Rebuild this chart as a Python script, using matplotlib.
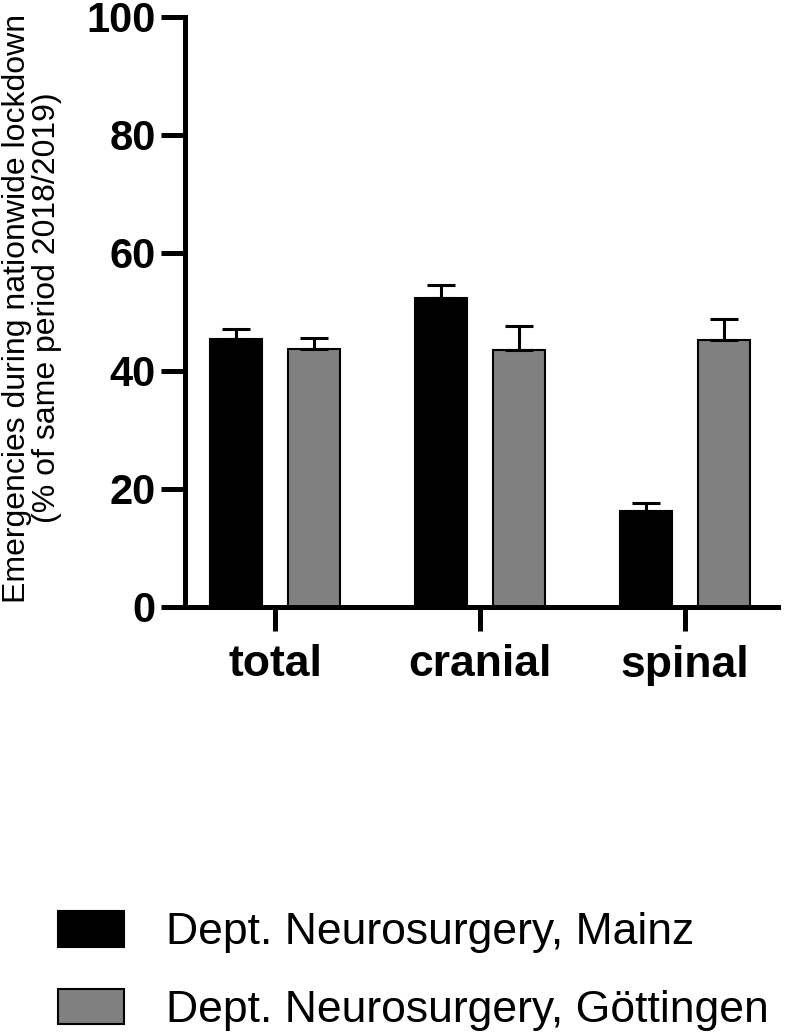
import matplotlib
matplotlib.use("Agg")
import matplotlib.pyplot as plt
from matplotlib.patches import Patch
import numpy as np

categories = ["total", "cranial", "spinal"]
series_names = ["Dept. Neurosurgery, Mainz", "Dept. Neurosurgery, Göttingen"]
mainz_values = [45.4, 52.4, 16.2]
mainz_err = [1.7, 2.1, 1.5]
goettingen_values = [43.8, 43.5, 45.2]
goettingen_err = [1.8, 4.2, 3.6]
y_ticks = [0, 20, 40, 60, 80, 100]

plt.rcParams['font.family'] = ['Liberation Sans', 'DejaVu Sans']

fig = plt.figure(figsize=(8, 10.36), dpi=100)
ax = fig.add_axes([185/800, 1-607/1036, (778-185)/800, (607-17)/1036])

x = np.arange(len(categories))
w = 0.25
off = 0.19
colors = ["#000000", "#808080"]
err_kw = dict(ecolor="black", elinewidth=2.2, capsize=10, capthick=2.2)

ax.bar(x - off, mainz_values, w, color=colors[0], edgecolor="black", linewidth=1.5,
       yerr=[np.zeros(3), mainz_err], error_kw=err_kw, zorder=2)
ax.bar(x + off, goettingen_values, w, color=colors[1], edgecolor="black", linewidth=1.5,
       yerr=[np.zeros(3), goettingen_err], error_kw=err_kw, zorder=2)

ax.set_xlim((185-275)/205, (778-275)/205)
ax.set_ylim(0, 100)
ax.set_yticks(y_ticks)
ax.set_yticklabels([str(t) for t in y_ticks], fontsize=30, fontweight="bold")
ax.set_xticks(x)
ax.set_xticklabels(categories, fontsize=32, fontweight="bold")

for s in ["top", "right"]:
    ax.spines[s].set_visible(False)
for s in ["left", "bottom"]:
    ax.spines[s].set_linewidth(3.6)
ax.tick_params(axis="both", direction="out", length=17, width=3.6)
ax.tick_params(axis="y", pad=4)
ax.tick_params(axis="x", pad=10)

fig.text(32/800, 1-308/1036,
         "Emergencies during nationwide lockdown\n(% of same period 2018/2019)",
         rotation=90, ha="center", va="center", multialignment="center",
         fontsize=23, linespacing=0.98)

handles = [Patch(facecolor=colors[0], edgecolor="black", linewidth=1.5),
           Patch(facecolor=colors[1], edgecolor="black", linewidth=1.5)]
fig.legend(handles, series_names, loc="upper left",
           bbox_to_anchor=(40/800, 1-893/1036), frameon=False,
           fontsize=32, handlelength=1.5, handleheight=0.86,
           handletextpad=0.93, labelspacing=0.8, borderaxespad=0)

fig.savefig("out.png", dpi=100)
